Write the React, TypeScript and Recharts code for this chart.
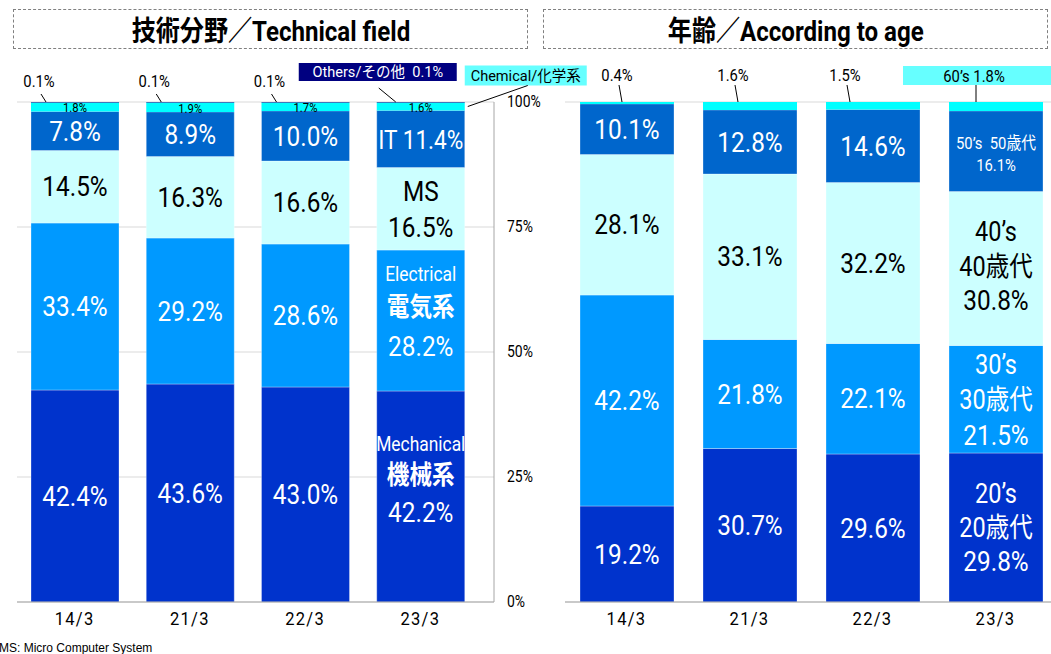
import { BarChart, Bar, XAxis, YAxis, CartesianGrid, LabelList } from 'recharts'

const YEARS = ['14/3', '21/3', '22/3', '23/3']

// 技術分野 / Technical field (%)
const MECHANICAL = [42.4, 43.6, 43.0, 42.2]
const ELECTRICAL = [33.4, 29.2, 28.6, 28.2]
const MICRO_SYSTEM = [14.5, 16.3, 16.6, 16.5]
const IT = [7.8, 8.9, 10.0, 11.4]
const CHEMICAL = [1.8, 1.9, 1.7, 1.6]
const OTHERS = [0.1, 0.1, 0.1, 0.1]

// 年齢 / According to age (%)
const AGE_20S = [19.2, 30.7, 29.6, 29.8]
const AGE_30S = [42.2, 21.8, 22.1, 21.5]
const AGE_40S = [28.1, 33.1, 32.2, 30.8]
const AGE_50S = [10.1, 12.8, 14.6, 16.1]
const AGE_60S = [0.4, 1.6, 1.5, 1.8]

const PCT_TICKS = [0, 25, 50, 75, 100]

const FONT = "Roboto, 'Noto Sans CJK JP', sans-serif"

const fieldData = YEARS.map((year, i) => ({
  year,
  mechanical: MECHANICAL[i],
  electrical: ELECTRICAL[i],
  ms: MICRO_SYSTEM[i],
  it: IT[i],
  chemical: CHEMICAL[i],
  others: OTHERS[i],
}))

const ageData = YEARS.map((year, i) => ({
  year,
  a20: AGE_20S[i],
  a30: AGE_30S[i],
  a40: AGE_40S[i],
  a50: AGE_50S[i],
  a60: AGE_60S[i],
}))

type Line = { text: string; dy: number; size: number; bold?: boolean }

const pct = (v: number) => `${v.toFixed(1)}%`

// narrow gothic look: squeeze the glyphs horizontally
const NText = ({ x, y, size, color = '#000', bold, sx = 0.87, anchor = 'middle', spacing, children }: any) => (
  <text
    transform={`translate(${x},${y}) scale(${sx},1)`}
    x={0}
    y={0}
    fill={color}
    fontSize={size}
    fontWeight={bold ? 700 : 400}
    textAnchor={anchor}
    dominantBaseline="central"
    fontFamily={FONT}
    letterSpacing={spacing}
    style={{ whiteSpace: 'pre' }}
  >
    {children}
  </text>
)

const box = (props: any) => {
  const vb = props.viewBox ?? props
  const top = Math.min(vb.y, vb.y + vb.height)
  const h = Math.abs(vb.height)
  return { x: vb.x, top, w: vb.width, h, cx: vb.x + vb.width / 2, cy: top + h / 2 }
}

// the last bar of each chart carries the series name too
function segmentLabel(values: number[], color: string, lastLines?: Line[]) {
  return (props: any) => {
    const i = props.index
    const b = box(props)
    const lines = i === values.length - 1 && lastLines ? lastLines : [{ text: '{v}', dy: 0, size: 28 }]
    return (
      <g>
        {lines.map((l, k) => (
          <NText key={k} x={b.cx} y={b.cy + l.dy} size={l.size} color={color} bold={l.bold}>
            {l.text.replace('{v}', pct(values[i]))}
          </NText>
        ))}
      </g>
    )
  }
}

const othersNote = (props: any) => {
  const i = props.index
  const b = box(props)
  if (i === OTHERS.length - 1) {
    return (
      <g>
        <rect x={b.x - 78} y={b.top - 39} width={158} height={18} fill="#000080" />
        <NText x={b.x + 1} y={b.top - 30} size={15} color="#fff" sx={0.97}>
          {`Others/その他  ${pct(OTHERS[i])}`}
        </NText>
        <line x1={b.x + 2} y1={b.top - 14} x2={b.x + 19} y2={b.top} stroke="#000" />
      </g>
    )
  }
  return (
    <g>
      <NText x={b.x + 8} y={b.top - 21} size={17}>
        {pct(OTHERS[i])}
      </NText>
      <line x1={b.x + 10} y1={b.top - 8} x2={b.x + 15} y2={b.top} stroke="#000" />
    </g>
  )
}

const chemicalNote = (props: any) => {
  const i = props.index
  const b = box(props)
  const right = b.x + b.w
  return (
    <g>
      <NText x={b.cx} y={b.cy + 1} size={13}>
        {pct(CHEMICAL[i])}
      </NText>
      {i === CHEMICAL.length - 1 && (
        <g>
          <rect x={right} y={b.top - 37} width={122} height={20} fill="#66FFFF" />
          <NText x={right + 61} y={b.top - 27} size={15} sx={0.97}>
            Chemical/化学系
          </NText>
          <line x1={right + 3} y1={b.cy} x2={right + 63} y2={b.top - 17} stroke="#000" />
        </g>
      )}
    </g>
  )
}

const AGE_NOTE_DX = [37, 30, 19]

const age60Note = (props: any) => {
  const i = props.index
  const b = box(props)
  if (i === AGE_60S.length - 1) {
    return (
      <g>
        <rect x={b.x - 46} y={b.top - 36} width={160} height={19} fill="#66FFFF" />
        <NText x={b.x + 25} y={b.top - 26} size={17}>
          {`60’s ${pct(AGE_60S[i])}`}
        </NText>
        <line x1={b.x + 27} y1={b.top - 17} x2={b.x + 27} y2={b.top} stroke="#000" />
      </g>
    )
  }
  const dx = AGE_NOTE_DX[i]
  return (
    <g>
      <NText x={b.x + dx} y={b.top - 27} size={17}>
        {pct(AGE_60S[i])}
      </NText>
      <line x1={b.x + dx + 2} y1={b.top - 17} x2={b.x + dx + 5} y2={b.top} stroke="#000" />
    </g>
  )
}

const XTick = ({ x, y, payload }: any) => (
  <NText x={x} y={y + 16} size={19} spacing={1.5}>
    {payload.value}
  </NText>
)

const PctTick = ({ x, y, payload }: any) => (
  <NText x={x + 13} y={y} size={16} anchor="start">
    {`${payload.value}%`}
  </NText>
)

const segStroke = { stroke: '#ffffff', strokeWidth: 0.5, strokeOpacity: 0.6 }

const titleStyle = {
  position: 'absolute' as const,
  top: 9,
  height: 40,
  border: '1px dashed #808080',
  boxSizing: 'border-box' as const,
  display: 'flex',
  alignItems: 'center',
  justifyContent: 'center',
  fontFamily: FONT,
  fontWeight: 700,
  fontSize: 28,
  color: '#000',
}

const squeeze = { display: 'inline-block', transform: 'scaleX(0.86)', whiteSpace: 'nowrap' as const }

export default function App() {
  return (
    <div style={{ position: 'fixed', left: 0, top: 0, width: 1051, height: 654, overflow: 'hidden', background: '#fff' }}>
      <div style={{ ...titleStyle, left: 13, width: 515 }}>
        <span style={squeeze}>技術分野／Technical field</span>
      </div>
      <div style={{ ...titleStyle, left: 543, width: 505 }}>
        <span style={squeeze}>年齢／According to age</span>
      </div>

      <div style={{ position: 'absolute', left: 0, top: 0 }}>
        <BarChart width={600} height={654} data={fieldData} margin={{ top: 102, right: 56, bottom: 22, left: 17 }}>
          <CartesianGrid vertical={false} stroke="#d9d9d9" />
          <XAxis dataKey="year" height={30} padding={{ left: 0, right: 16 }} tickLine={false} tickSize={0} tickMargin={0} axisLine={{ stroke: '#a6a6a6' }} tick={<XTick />} />
          <YAxis orientation="right" width={50} domain={[0, 100]} ticks={PCT_TICKS} tickLine={false} tickSize={0} tickMargin={0} axisLine={{ stroke: '#a6a6a6' }} tick={<PctTick />} />
          <Bar dataKey="mechanical" stackId="f" fill="#0033CC" barSize={88} isAnimationActive={false} {...segStroke}>
            <LabelList content={segmentLabel(MECHANICAL, '#fff', [
              { text: 'Mechanical', dy: -52, size: 20 },
              { text: '機械系', dy: -22, size: 26, bold: true },
              { text: '{v}', dy: 16, size: 28 },
            ])} />
          </Bar>
          <Bar dataKey="electrical" stackId="f" fill="#0099FF" barSize={88} isAnimationActive={false} {...segStroke}>
            <LabelList content={segmentLabel(ELECTRICAL, '#fff', [
              { text: 'Electrical', dy: -46, size: 20 },
              { text: '電気系', dy: -14, size: 26, bold: true },
              { text: '{v}', dy: 26, size: 28 },
            ])} />
          </Bar>
          <Bar dataKey="ms" stackId="f" fill="#CCFFFF" barSize={88} isAnimationActive={false} {...segStroke}>
            <LabelList content={segmentLabel(MICRO_SYSTEM, '#000', [
              { text: 'MS', dy: -17, size: 28 },
              { text: '{v}', dy: 19, size: 28 },
            ])} />
          </Bar>
          <Bar dataKey="it" stackId="f" fill="#0066CC" barSize={88} isAnimationActive={false} {...segStroke}>
            <LabelList content={segmentLabel(IT, '#fff', [{ text: 'IT {v}', dy: 1, size: 26 }])} />
          </Bar>
          <Bar dataKey="chemical" stackId="f" fill="#00FFFF" barSize={88} isAnimationActive={false}>
            <LabelList content={chemicalNote} />
          </Bar>
          <Bar dataKey="others" stackId="f" fill="#000080" barSize={88} isAnimationActive={false}>
            <LabelList content={othersNote} />
          </Bar>
        </BarChart>
      </div>

      <div style={{ position: 'absolute', left: 540, top: 0 }}>
        <BarChart width={530} height={654} data={ageData} margin={{ top: 102, right: 13, bottom: 22, left: 25 }}>
          <CartesianGrid vertical={false} stroke="#d9d9d9" />
          <XAxis dataKey="year" height={30} tickLine={false} tickSize={0} tickMargin={0} axisLine={{ stroke: '#a6a6a6' }} tick={<XTick />} />
          <YAxis width={0} domain={[0, 100]} ticks={PCT_TICKS} tick={false} tickLine={false} axisLine={{ stroke: '#a6a6a6' }} />
          <Bar dataKey="a20" stackId="a" fill="#0033CC" barSize={94} isAnimationActive={false} {...segStroke}>
            <LabelList content={segmentLabel(AGE_20S, '#fff', [
              { text: '20’s', dy: -34, size: 27 },
              { text: '20歳代', dy: 0, size: 27 },
              { text: '{v}', dy: 34, size: 28 },
            ])} />
          </Bar>
          <Bar dataKey="a30" stackId="a" fill="#0099FF" barSize={94} isAnimationActive={false} {...segStroke}>
            <LabelList content={segmentLabel(AGE_30S, '#fff', [
              { text: '30’s', dy: -34, size: 27 },
              { text: '30歳代', dy: 1, size: 27 },
              { text: '{v}', dy: 36, size: 28 },
            ])} />
          </Bar>
          <Bar dataKey="a40" stackId="a" fill="#CCFFFF" barSize={94} isAnimationActive={false} {...segStroke}>
            <LabelList content={segmentLabel(AGE_40S, '#000', [
              { text: '40’s', dy: -37, size: 27 },
              { text: '40歳代', dy: -2, size: 27 },
              { text: '{v}', dy: 32, size: 28 },
            ])} />
          </Bar>
          <Bar dataKey="a50" stackId="a" fill="#0066CC" barSize={94} isAnimationActive={false} {...segStroke}>
            <LabelList content={segmentLabel(AGE_50S, '#fff', [
              { text: '50’s  50歳代', dy: -8, size: 17 },
              { text: '{v}', dy: 14, size: 17 },
            ])} />
          </Bar>
          <Bar dataKey="a60" stackId="a" fill="#00FFFF" barSize={94} isAnimationActive={false}>
            <LabelList content={age60Note} />
          </Bar>
        </BarChart>
      </div>

      <div style={{ position: 'absolute', left: -1, top: 641, fontFamily: "'Liberation Sans', Arial, sans-serif", fontSize: 12, color: '#000', whiteSpace: 'nowrap' }}>
        MS: Micro Computer System
      </div>
    </div>
  )
}
